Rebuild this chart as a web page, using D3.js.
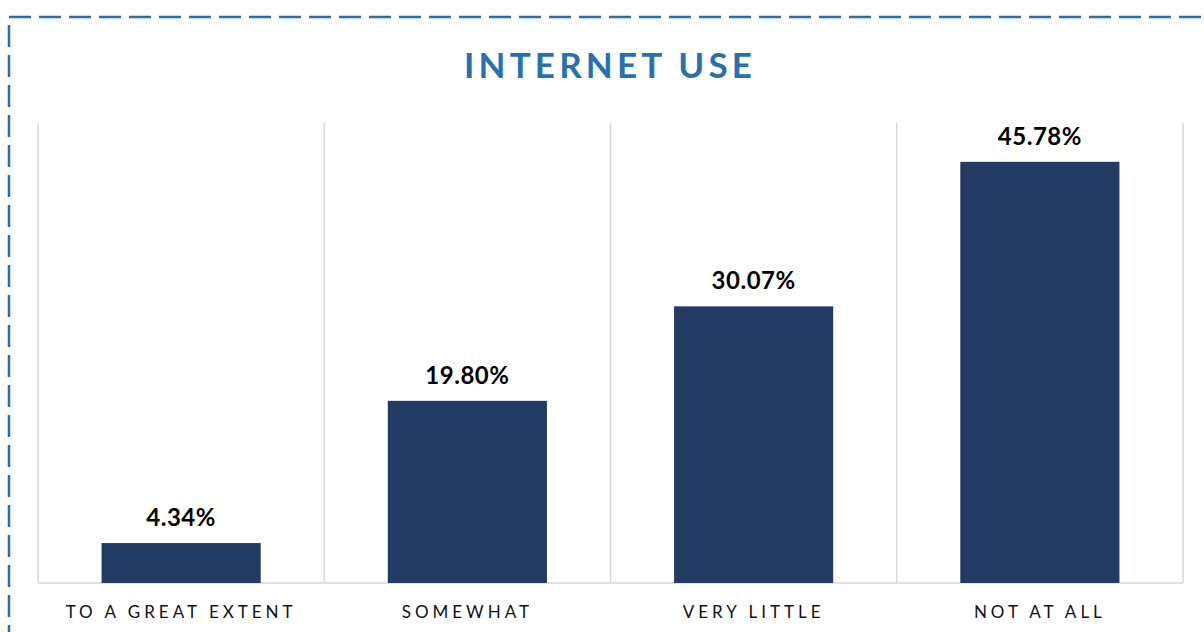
<!DOCTYPE html>
<html>
<head>
<meta charset="utf-8">
<script src="https://cdn.jsdelivr.net/npm/d3@7"></script>
<style>
  body { margin: 0; background: #fff; }
  svg { display: block; }
</style>
</head>
<body>
<svg id="chart"></svg>
<script>
// data
const categories = ['TO A GREAT EXTENT', 'SOMEWHAT', 'VERY LITTLE', 'NOT AT ALL'];
const values = [4.34, 19.80, 30.07, 45.78];
const yMax = 50;

// drawing constants
const W = 1204, H = 632;
const PLOT = { left: 38, right: 1183, top: 123, bottom: 583 };
const BAR_COLOR = '#233a63';
const BLUE = '#2a70b0';
const FONT = 'Lato, "Open Sans", sans-serif';

const svg = d3.select('#chart')
  .attr('width', W)
  .attr('height', H)
  .attr('font-family', FONT);

// dashed frame (runs off the right and bottom edges)
svg.append('rect')
  .attr('x', 9).attr('y', 17)
  .attr('width', 1220).attr('height', 640)
  .attr('fill', 'none')
  .attr('stroke', BLUE)
  .attr('stroke-width', 2.5)
  .attr('stroke-dasharray', '22 8');

// title
svg.append('text')
  .attr('x', 610).attr('y', 78)
  .attr('text-anchor', 'middle')
  .attr('font-size', 35)
  .attr('font-weight', 'bold')
  .attr('letter-spacing', 4.2)
  .attr('fill', BLUE)
  .text('INTERNET USE');

const x = d3.scaleBand()
  .domain(categories)
  .range([PLOT.left, PLOT.right])
  .paddingInner(0)
  .paddingOuter(0);

const y = d3.scaleLinear()
  .domain([0, yMax])
  .range([PLOT.bottom, PLOT.top]);

// vertical category separators
const seps = categories.map(c => x(c)).concat([PLOT.right]);
svg.append('g')
  .selectAll('line')
  .data(seps)
  .join('line')
  .attr('x1', d => d).attr('x2', d => d)
  .attr('y1', PLOT.top).attr('y2', PLOT.bottom)
  .attr('stroke', '#d9d9d9')
  .attr('stroke-width', 1.5);

// baseline
svg.append('line')
  .attr('x1', PLOT.left).attr('x2', PLOT.right)
  .attr('y1', PLOT.bottom).attr('y2', PLOT.bottom)
  .attr('stroke', '#d9d9d9')
  .attr('stroke-width', 1.5);

const barW = x.bandwidth() * 0.556;

// bars
svg.append('g')
  .selectAll('rect')
  .data(values)
  .join('rect')
  .attr('x', (d, i) => x(categories[i]) + (x.bandwidth() - barW) / 2)
  .attr('y', d => y(d))
  .attr('width', barW)
  .attr('height', d => y(0) - y(d))
  .attr('fill', BAR_COLOR);

// value labels
svg.append('g')
  .selectAll('text')
  .data(values)
  .join('text')
  .attr('x', (d, i) => x(categories[i]) + x.bandwidth() / 2)
  .attr('y', d => y(d) - 17)
  .attr('text-anchor', 'middle')
  .attr('font-size', 24)
  .attr('font-weight', 'bold')
  .attr('letter-spacing', 0.5)
  .attr('fill', '#000')
  .text(d => d.toFixed(2) + '%');

// category labels
svg.append('g')
  .selectAll('text')
  .data(categories)
  .join('text')
  .attr('x', d => x(d) + x.bandwidth() / 2)
  .attr('y', 618)
  .attr('text-anchor', 'middle')
  .attr('font-size', 17)
  .attr('letter-spacing', 4)
  .attr('fill', '#111')
  .text(d => d);
</script>
</body>
</html>
